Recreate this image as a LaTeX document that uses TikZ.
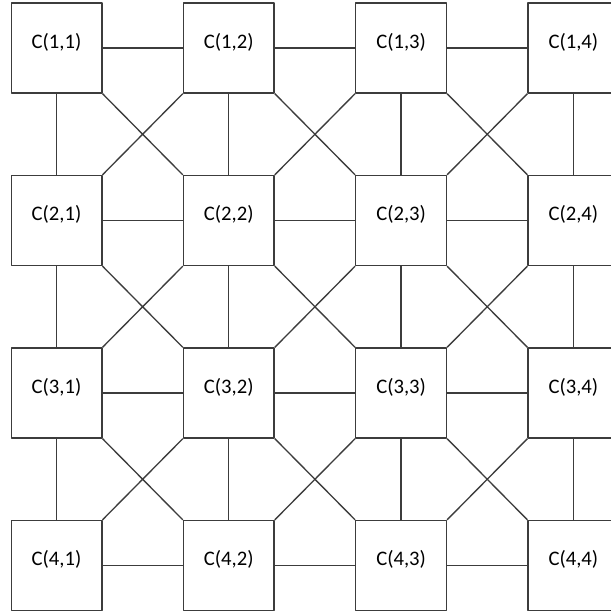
\documentclass[tikz,border=0pt]{standalone}
\usepackage{fontspec}
\setmainfont{Carlito}
\usepackage{tikz}
\definecolor{Ink}{HTML}{3C3C3C}
\tikzset{
  cell/.style={draw=Ink,line width=1pt,fill=white,minimum width=68pt,minimum height=67.5pt,inner sep=0pt,font=\fontsize{15.5}{17}\selectfont,text depth=11pt},
  link/.style={draw=Ink,line width=1pt},
}
\begin{document}
\begin{tikzpicture}[x=0.75pt,y=-0.75pt,line join=round]
\clip (0,0) rectangle (611,615);
\fill[white] (0,0) rectangle (611,615);
\foreach \i in {1,...,4} \foreach \j in {1,...,4}
  \node[cell] (c\i\j) at ({56.5+172.3*(\j-1)},{48+172.5*(\i-1)}) {C(\i,\j)};
\foreach \i in {1,...,4} \foreach \j/\k in {1/2,2/3,3/4}
  \draw[link] (c\i\j.east) -- (c\i\k.west);
\foreach \i/\n in {1/2,2/3,3/4} \foreach \j in {1,...,4}
  \draw[link] (c\i\j.south) -- (c\n\j.north);
\foreach \i/\n in {1/2,2/3,3/4} \foreach \j/\k in {1/2,2/3,3/4}
  \draw[link] (c\i\j.south east) -- (c\n\k.north west) (c\i\k.south west) -- (c\n\j.north east);
\end{tikzpicture}
\end{document}
